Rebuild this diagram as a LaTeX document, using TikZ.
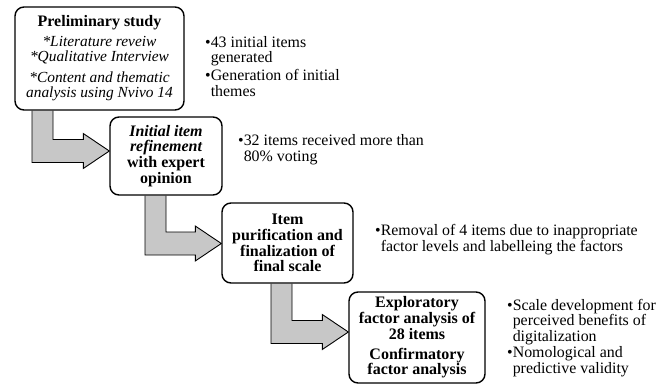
\documentclass[tikz,border=0pt]{standalone}
\usepackage{fontspec}
\setmainfont{Liberation Serif}
\usetikzlibrary{calc,backgrounds}
\tikzset{
  stagebox/.style={draw=black, line width=1.4pt, rounded corners=9pt, fill=white,
    align=center, inner sep=0pt, font=\fontsize{16}{15.8}\selectfont\bfseries},
  sidenote/.style={anchor=west, align=left, inner sep=0pt,
    font=\fontsize{15.9}{15.9}\selectfont},
  arrowshape/.style={draw=black, line width=0.9pt, fill=black!22, line join=miter}
}
\newcommand\steparrow[4]{%
  \draw[arrowshape] let \p1=(#1.south), \p2=(#2.west) in
   (#3pt,\y1) -- (#3pt,{-(#4+11.5)*1pt}) -- ({\x2-26pt},{-(#4+11.5)*1pt})
   -- ({\x2-26pt},{-(#4+17.5)*1pt}) -- (\x2,{-#4*1pt})
   -- ({\x2-26pt},{-(#4-17.5)*1pt}) -- ({\x2-26pt},{-(#4-11.5)*1pt})
   -- ({#3pt+21pt},{-(#4-11.5)*1pt}) -- ({#3pt+21pt},\y1);
}
\newcommand\bul{\textbullet}
\newcommand\nobul{\phantom{\textbullet}}
\newcommand\itl{\fontsize{15.4}{15.4}\selectfont\mdseries\itshape}
\begin{document}
\begin{tikzpicture}[x=1pt,y=-1pt]
\useasboundingbox (0,0) rectangle (668,385);
\node[stagebox, minimum width=169pt, minimum height=103pt] (b1) at (99.5,58.5)
  {Preliminary study\\[3.5pt]
   \itl *Literature reveiw\\
   \itl *Qualitative Interview\\[4.5pt]
   \itl *Content and thematic\\
   \itl analysis using Nvivo 14};
\node[stagebox, minimum width=112pt, minimum height=78pt] (b2) at (166,156)
  {\itshape Initial item\\ \itshape refinement\\ with expert\\ opinion};
\node[stagebox, minimum width=131pt, minimum height=80pt] (b3) at (287.5,243)
  {Item\\ purification and\\ finalization of\\ final scale};
\node[stagebox, minimum width=136pt, minimum height=91pt] (b4) at (417,337.5)
  {Exploratory\\ factor analysis of\\ 28 items\\[4pt] Confirmatory\\ factor analysis};

\begin{pgfonlayer}{background}
\steparrow{b1}{b2}{32}{151}
\steparrow{b2}{b3}{145}{243.5}
\steparrow{b3}{b4}{271}{332}
\end{pgfonlayer}

\node[sidenote] (n1) at (205,66.5)
  {\bul 43 initial items\\ \nobul generated\\[2pt]
   \bul Generation of initial\\ \nobul themes};
\node[sidenote] (n2) at (238,150)
  {\bul 32 items received more than\\ \nobul 80\% voting};
\node[sidenote] (n3) at (375,240)
  {\bul Removal of 4 items due to inappropriate\\ \nobul factor levels and labelleing the factors};
\node[sidenote] (n4) at (507,338)
  {\bul Scale development for\\ \nobul perceived benefits of\\ \nobul digitalization\\
   \bul Nomological and\\ \nobul predictive validity};
\end{tikzpicture}
\end{document}
